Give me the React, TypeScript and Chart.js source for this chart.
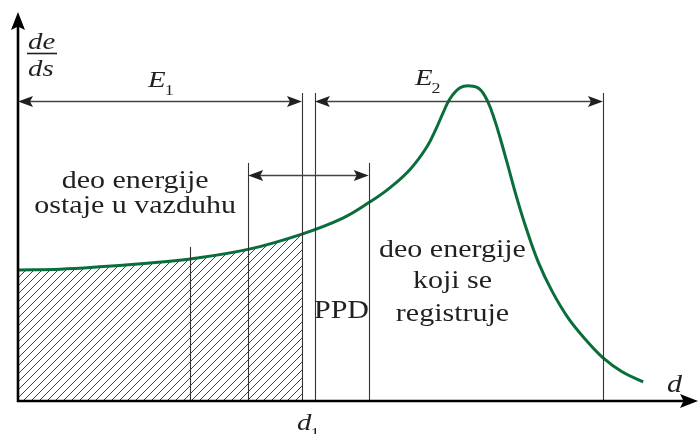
import React, { useEffect, useRef } from "react";
import { Chart, registerables } from "chart.js";

Chart.register(...registerables);

// Stopping power dE/ds along the path of the particle (Bragg curve), arbitrary units
const depth = [0, 6.2, 12.0, 19.4, 25.3, 34.1, 41.7, 47.7, 51.7, 54.6, 57.6, 60.1, 61.5, 62.4, 63.4, 64.9, 66.4, 67.8, 69.0, 70.0, 70.8, 71.8, 73.3, 74.7, 76.4, 78.4, 80.8, 83.3, 86.1, 88.7, 91.8];
const dEdS = [33.7, 33.9, 34.5, 35.5, 36.5, 39.1, 42.9, 47.0, 51.2, 54.8, 59.6, 65.5, 70.4, 74.0, 77.6, 80.5, 81.0, 80.2, 76.9, 72.2, 67.6, 61.4, 51.9, 44.0, 35.7, 28.3, 21.3, 15.9, 10.8, 7.5, 4.9];

// Depth marks along the path
const D1 = 41.7; // end of the air layer (entrance to the detector)
const AIR_MARK = 25.3;
const PPD_START = 33.8;
const E2_START = 43.6;
const PPD_END = 51.5;
const E2_END = 85.9;

// Vertical guide lines: [depth, upper end]
const guides: [number, number][] = [
  [AIR_MARK, 39.6],
  [PPD_START, 61.2],
  [D1, 79.2],
  [E2_START, 79.2],
  [PPD_END, 61.2],
  [E2_END, 79.2],
];

const ENERGY_ARROW_LEVEL = 77.0;
const PPD_ARROW_LEVEL = 58.0;

const X_MAX = 100;
const Y_MAX = 100;

const INK = "#231f20";
const GREEN = "#0a6e3c";
const SERIF = "'Liberation Serif', 'Times New Roman', serif";
const STRETCH = 1.2;

function hatchPattern(ctx: CanvasRenderingContext2D) {
  const s = 8;
  const c = document.createElement("canvas");
  c.width = s;
  c.height = s;
  const g = c.getContext("2d")!;
  g.strokeStyle = "#2b2b2b";
  g.lineWidth = 0.9;
  g.beginPath();
  g.moveTo(0, s);
  g.lineTo(s, 0);
  g.moveTo(-2, 2);
  g.lineTo(2, -2);
  g.moveTo(s - 2, s + 2);
  g.lineTo(s + 2, s - 2);
  g.stroke();
  return ctx.createPattern(c, "repeat")!;
}

function head(ctx: CanvasRenderingContext2D, tx: number, ty: number, dx: number, dy: number, len: number, half: number) {
  // dx,dy: unit direction the arrow points to
  const bx = tx - dx * len;
  const by = ty - dy * len;
  const nx = -dy;
  const ny = dx;
  ctx.beginPath();
  ctx.moveTo(tx, ty);
  ctx.lineTo(bx + nx * half, by + ny * half);
  ctx.lineTo(tx - dx * len * 0.8, ty - dy * len * 0.8);
  ctx.lineTo(bx - nx * half, by - ny * half);
  ctx.closePath();
  ctx.fill();
}

function text(ctx: CanvasRenderingContext2D, str: string, x: number, y: number, font: string, align: CanvasTextAlign = "left") {
  ctx.save();
  ctx.font = font;
  ctx.textAlign = align;
  ctx.textBaseline = "alphabetic";
  ctx.translate(x, y);
  ctx.scale(STRETCH, 1);
  ctx.fillText(str, 0, 0);
  ctx.restore();
}

function subscripted(ctx: CanvasRenderingContext2D, main: string, sub: string, x: number, y: number, size: number) {
  ctx.save();
  ctx.font = `italic ${size}px ${SERIF}`;
  const w = ctx.measureText(main).width * STRETCH;
  ctx.restore();
  text(ctx, main, x, y, `italic ${size}px ${SERIF}`);
  text(ctx, sub, x + w - 1, y + 8, `${Math.round(size * 0.62)}px ${SERIF}`);
}

const overlay = {
  id: "overlay",
  afterDatasetsDraw(chart: Chart) {
    const { ctx } = chart;
    const xs = chart.scales.x;
    const ys = chart.scales.y;
    const X = (v: number) => xs.getPixelForValue(v);
    const Y = (v: number) => ys.getPixelForValue(v);
    const x0 = X(0);
    const y0 = Y(0);

    ctx.save();

    // vertical guide lines
    ctx.strokeStyle = "#333";
    ctx.lineWidth = 1.1;
    for (const [d, top] of guides) {
      const px = Math.round(X(d)) + 0.5;
      ctx.beginPath();
      ctx.moveTo(px, Y(top));
      ctx.lineTo(px, y0);
      ctx.stroke();
    }

    // double-headed dimension arrows
    const dimension = (a: number, b: number, level: number) => {
      const xa = X(a);
      const xb = X(b);
      const py = Math.round(Y(level)) + 0.5;
      ctx.strokeStyle = "#444";
      ctx.fillStyle = INK;
      ctx.lineWidth = 1.4;
      ctx.beginPath();
      ctx.moveTo(xa + 6, py);
      ctx.lineTo(xb - 6, py);
      ctx.stroke();
      head(ctx, xa, py, -1, 0, 15, 5.5);
      head(ctx, xb, py, 1, 0, 15, 5.5);
    };
    dimension(0, D1, ENERGY_ARROW_LEVEL);
    dimension(E2_START, E2_END, ENERGY_ARROW_LEVEL);
    dimension(PPD_START, PPD_END, PPD_ARROW_LEVEL);

    // axes with arrows
    ctx.strokeStyle = "#000";
    ctx.fillStyle = "#000";
    ctx.lineWidth = 2.6;
    ctx.beginPath();
    ctx.moveTo(x0, y0 + 1.3);
    ctx.lineTo(x0, chart.chartArea.top + 12);
    ctx.moveTo(x0 - 1.3, y0);
    ctx.lineTo(chart.chartArea.right - 12, y0);
    ctx.stroke();
    head(ctx, x0, chart.chartArea.top, 0, -1, 18, 7);
    head(ctx, chart.chartArea.right - 1, y0, 1, 0, 18, 7);

    // labels
    ctx.fillStyle = INK;
    const body = `25px ${SERIF}`;
    text(ctx, "deo energije", X(17.2), Y(54.8), body, "center");
    text(ctx, "ostaje u vazduhu", X(17.2), Y(48.3), body, "center");
    text(ctx, "deo energije", X(63.8), Y(37.0), body, "center");
    text(ctx, "koji se", X(63.8), Y(29.0), body, "center");
    text(ctx, "registruje", X(63.8), Y(20.6), body, "center");
    text(ctx, "PPD", X(47.5), Y(21.3), body, "center");

    subscripted(ctx, "E", "1", X(19.1), Y(80.7), 24);
    subscripted(ctx, "E", "2", X(58.3), Y(81.2), 24);
    subscripted(ctx, "d", "1", X(D1) - 5, y0 + 29, 24);
    text(ctx, "d", X(95.3), Y(2.3), `italic 25px ${SERIF}`);

    // dE/ds fraction at the top of the ordinate
    const fx = x0 + 10;
    text(ctx, "de", fx, 49, `italic 24px ${SERIF}`);
    ctx.strokeStyle = INK;
    ctx.lineWidth = 1.6;
    ctx.beginPath();
    ctx.moveTo(fx - 1, 53.5);
    ctx.lineTo(fx + 29, 53.5);
    ctx.stroke();
    text(ctx, "ds", fx, 76, `italic 24px ${SERIF}`);

    ctx.restore();
  },
};

export default function App() {
  const ref = useRef<HTMLCanvasElement>(null);

  useEffect(() => {
    const canvas = ref.current!;
    const ctx = canvas.getContext("2d")!;
    const curve = depth.map((d, i) => ({ x: d, y: dEdS[i] }));
    const absorbed = curve.filter((p) => p.x <= D1);

    const chart = new Chart(ctx, {
      type: "line",
      data: {
        datasets: [
          {
            data: curve,
            borderColor: GREEN,
            borderWidth: 3,
            pointRadius: 0,
            tension: 0.4,
            fill: false,
          },
          {
            data: absorbed,
            borderWidth: 0,
            borderColor: "rgba(0,0,0,0)",
            backgroundColor: hatchPattern(ctx),
            pointRadius: 0,
            tension: 0.4,
            fill: "origin",
          },
        ],
      },
      options: {
        responsive: false,
        animation: false,
        devicePixelRatio: 1,
        events: [],
        layout: { padding: { left: 18, right: 0, top: 12, bottom: 33 } },
        scales: {
          x: { type: "linear", min: 0, max: X_MAX, display: false },
          y: { type: "linear", min: 0, max: Y_MAX, display: false },
        },
        plugins: { legend: { display: false }, tooltip: { enabled: false } },
      },
      plugins: [overlay],
    });
    return () => chart.destroy();
  }, []);

  return (
    <div style={{ position: "fixed", left: 0, top: 0, width: 699, height: 434, background: "#fff" }}>
      <canvas ref={ref} width={699} height={434} style={{ width: 699, height: 434, display: "block" }} />
    </div>
  );
}
